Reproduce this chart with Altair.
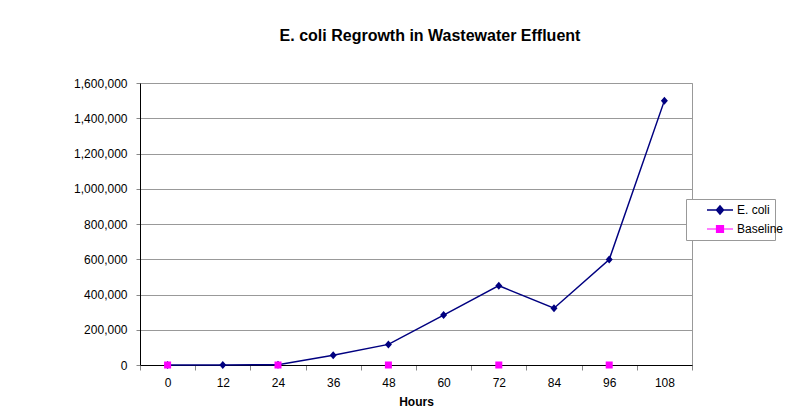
import altair as alt
import pandas as pd

hours = [0, 12, 24, 36, 48, 60, 72, 84, 96, 108]
ecoli = [0, 0, 2000, 55000, 117000, 283000, 450000, 322000, 598000, 1500000]
baseline_hours = [0, 24, 48, 72, 96]
baseline = [0, 0, 0, 0, 0]
series_names = ["E. coli", "Baseline"]
series_colors = ["#000080", "#FF00FF"]
series_shapes = [
    "M-2.6,0H2.6M-0.7,0L0,-0.8L0.7,0L0,0.8Z",
    "M-2.6,0H2.6M-0.7,-0.7H0.7V0.7H-0.7Z",
]

df_e = pd.DataFrame({"Hours": hours, "value": ecoli, "series": series_names[0]})
df_b = pd.DataFrame({"Hours": baseline_hours, "value": baseline, "series": series_names[1]})

FONT = "Liberation Sans"

x = alt.X("Hours:O", scale=alt.Scale(type="band", paddingInner=0, paddingOuter=0, domain=hours),
          axis=alt.Axis(title="Hours", labelAngle=0, tickBand="extent", grid=False,
                        labelFontSize=12, labelColor="#000", labelPadding=7,
                        tickColor="#888", tickSize=5, domainColor="#000", domainWidth=1,
                        titleFontSize=12, titleFontWeight="bold", titleColor="#000",
                        titlePadding=8))
y = alt.Y("value:Q", scale=alt.Scale(domain=[0, 1600000], nice=False),
          axis=alt.Axis(title=None, format=",d", values=list(range(0, 1600001, 200000)),
                        labelFontSize=12, labelColor="#000", labelPadding=9,
                        tickColor="#888", tickSize=4, domainColor="#000", domainWidth=1,
                        gridColor="#999", gridWidth=1))

common = dict(orient="none", legendX=546, padding=5, symbolSize=100,
              symbolOffset=23, labelOffset=11, labelFontSize=12, labelColor="#000")

leg_e = alt.Legend(title=" ", titleOrient="bottom", titleFontSize=12, titlePadding=7,
                   legendY=116, fillColor="white", strokeColor="#999",
                   symbolStrokeColor=series_colors[0], symbolStrokeWidth=1.5, **common)
leg_b = alt.Legend(title=None, legendY=135,
                   symbolStrokeColor=series_colors[1], symbolStrokeWidth=1.2, **common)

line = alt.Chart(df_e).mark_line(strokeWidth=1.5, color=series_colors[0]).encode(x=x, y=y)

points_e = alt.Chart(df_e).mark_point(filled=True, opacity=1, size=100).encode(
    x=x, y=y,
    color=alt.Color("series:N", scale=alt.Scale(domain=[series_names[0]], range=[series_colors[0]]), legend=leg_e),
    shape=alt.Shape("series:N", scale=alt.Scale(domain=[series_names[0]], range=[series_shapes[0]]), legend=leg_e),
)
points_b = alt.Chart(df_b).mark_point(filled=True, opacity=1, size=100).encode(
    x=x, y=y,
    color=alt.Color("series:N", scale=alt.Scale(domain=[series_names[1]], range=[series_colors[1]]), legend=leg_b),
    shape=alt.Shape("series:N", scale=alt.Scale(domain=[series_names[1]], range=[series_shapes[1]]), legend=leg_b),
)

chart = alt.layer(line, points_e, points_b).resolve_scale(
    color="independent", shape="independent"
).properties(
    width=552, height=282,
    autosize=alt.AutoSizeParams(type="none"),
    padding={"left": 132, "top": 75, "right": 96, "bottom": 43},
    title=alt.Title("E. coli Regrowth in Wastewater Effluent", fontSize=16, fontWeight="bold",
                    color="#000", anchor="middle", dx=14, offset=33, font=FONT),
    background="white",
).configure(font=FONT).configure_view(stroke="#999", strokeWidth=1)

chart.save("out.html", embed_options={"renderer": "svg", "actions": False})
